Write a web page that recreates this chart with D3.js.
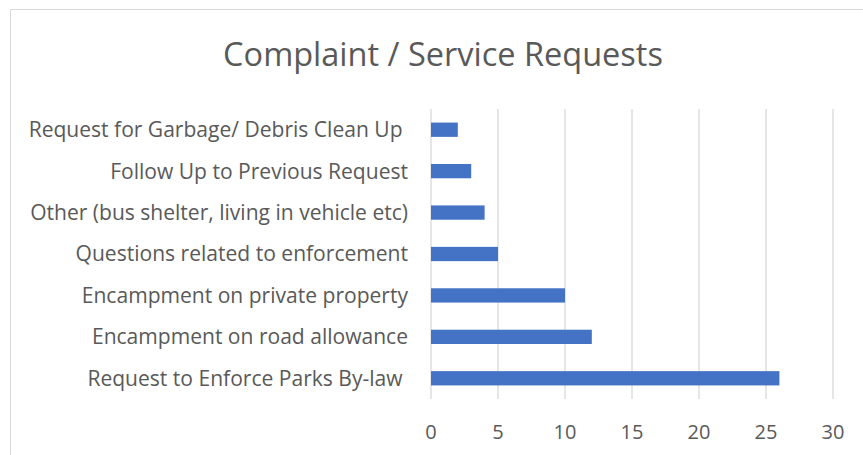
<!DOCTYPE html>
<html>
<head>
<meta charset="utf-8">
<script src="https://cdn.jsdelivr.net/npm/d3@7"></script>
<style>
  body { margin: 0; background: #fff; }
  text { font-family: "Open Sans", "Liberation Sans", sans-serif; fill: #595959; white-space: pre; }
</style>
</head>
<body>
<div id="chart"></div>
<script>
var width = 863, height = 455

var categories = [
    'Request for Garbage/ Debris Clean Up ',
    'Follow Up to Previous Request',
    'Other (bus shelter, living in vehicle etc)',
    'Questions related to enforcement',
    'Encampment on private property',
    'Encampment on road allowance',
    'Request to Enforce Parks By-law '
]
var values = [2, 3, 4, 5, 10, 12, 26]
var xTicks = [0, 5, 10, 15, 20, 25, 30]
var title = 'Complaint / Service Requests'

var svg = d3.select('#chart')
    .append('svg')
    .attr('width', width)
    .attr('height', height)

// chart border (runs off the right and bottom)
svg.append('rect')
    .attr('x', 10.5)
    .attr('y', 9.5)
    .attr('width', 900)
    .attr('height', 500)
    .attr('fill', 'none')
    .attr('stroke', '#d9d9d9')

var x = d3.scaleLinear().domain([0, 30]).range([431, 833])
var y = d3.scaleBand().domain(categories).range([109, 399]).paddingInner(0.655).paddingOuter(0.3275)

// gridlines
svg.append('g')
    .selectAll('line')
    .data(xTicks)
    .enter()
    .append('line')
    .attr('x1', function(d) { return x(d) })
    .attr('x2', function(d) { return x(d) })
    .attr('y1', 109)
    .attr('y2', 399)
    .attr('stroke', '#d9d9d9')
    .attr('stroke-width', 1.3)

// bars
svg.append('g')
    .selectAll('rect')
    .data(values)
    .enter()
    .append('rect')
    .attr('x', x(0))
    .attr('y', function(d, i) { return y(categories[i]) })
    .attr('width', function(d) { return x(d) - x(0) })
    .attr('height', y.bandwidth())
    .attr('fill', '#4472c4')

// x tick labels
svg.append('g')
    .selectAll('text')
    .data(xTicks)
    .enter()
    .append('text')
    .attr('x', function(d) { return x(d) })
    .attr('y', 432)
    .attr('dy', '0.36em')
    .attr('text-anchor', 'middle')
    .style('font-size', '20px')
    .text(function(d) { return d })

// category labels
var labels = svg.append('g')
    .selectAll('text')
    .data(categories)
    .enter()
    .append('text')
    .attr('x', 408)
    .attr('y', function(d) { return y(d) + y.bandwidth() / 2 })
    .attr('dy', '0.35em')
    .attr('text-anchor', 'end')
    .style('font-size', '18px')
    .text(function(d) { return d })

// squeeze the substitute font to the Calibri widths of the original
var longest = labels.filter(function(d, i) { return i === 2 }).node().getComputedTextLength()
var labelSize = 18 * 378 / longest
labels.style('font-size', labelSize + 'px')

var t = svg.append('text')
    .attr('x', 443)
    .attr('y', 55)
    .attr('dy', '0.35em')
    .attr('text-anchor', 'middle')
    .style('font-size', '30px')
    .text(title)
var tw = t.node().getComputedTextLength()
t.style('font-size', (30 * 440 / tw) + 'px')
</script>
</body>
</html>
